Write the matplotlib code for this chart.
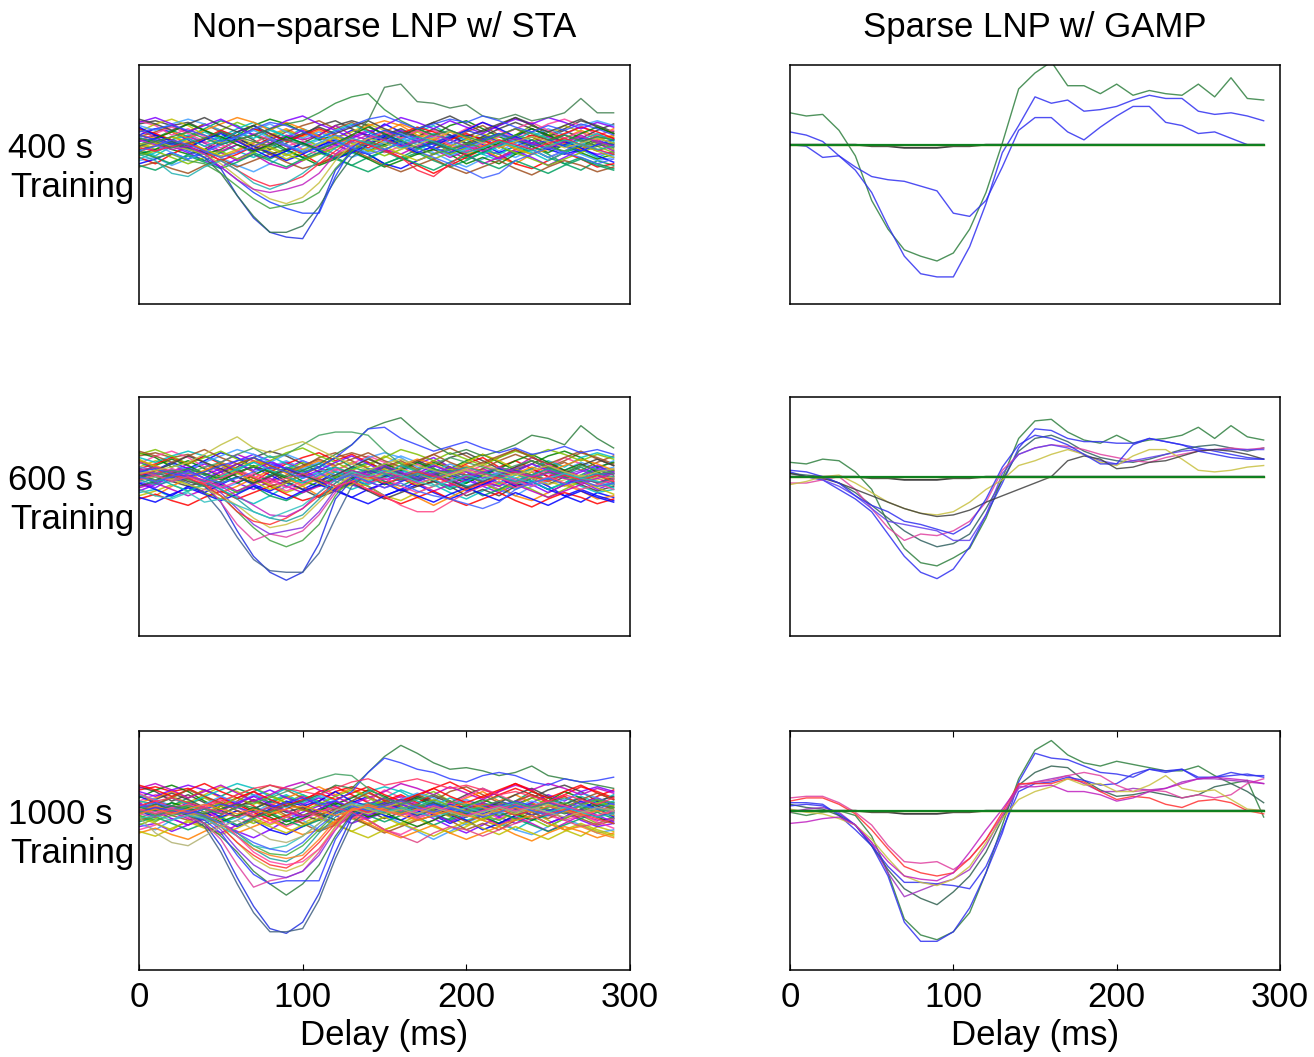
import matplotlib.pyplot as plt

plt.rcParams['font.family'] = ['Liberation Sans', 'DejaVu Sans']

# delay axis (ms), one sample every 10 ms
delay = list(range(0, 300, 10))
xticks = [0, 100, 200, 300]
titles = ["Non\u2212sparse LNP w/ STA", "Sparse LNP w/ GAMP"]
rows = ["400 s", "600 s", "1000 s"]

# values in tenths of a unit, 0 = baseline
# shared noisy band of the STA filters (hand traced, approximate)
band = [
    [6, 10, 8, 3, -4, 1, 8, 12, 5, 0, -5, -1, 4, 9, 6, 13, 8, 3, -3, 1, 6, 4, -1, 5, 10, 6, 1, -4, 0, 3],
    [-3, -7, -1, 4, 8, 3, -4, -8, -3, 5, 10, 6, 0, -5, -9, -4, 3, 8, 12, 6, 0, -6, -10, -5, 1, 8, 4, -3, -8, -4],
    [13, 15, 12, 14, 9, 4, 8, 3, -3, 1, 6, 12, 15, 10, 5, 0, 4, 9, 14, 18, 13, 8, 12, 17, 13, 6, 10, 15, 12, 8],
    [0, 4, 9, 5, 10, 15, 12, 6, 1, -4, -8, -3, 3, -1, -6, -12, -8, -3, 1, -4, -9, -5, 0, 4, -1, -6, -12, -16, -10, -13],
    [-10, -8, -13, -9, -4, -8, -13, -17, -12, -6, -1, 3, -3, -8, -4, 1, 5, 0, -5, -10, -14, -9, -4, -8, -3, 3, -1, -6, -10, -8],
    [4, 1, -3, -6, -3, 3, 6, 12, 16, 13, 8, 3, 6, 1, -4, 0, 5, 10, 6, 12, 15, 10, 5, 1, 5, 0, -5, -1, 4, 1],
    [9, 5, 0, 4, -1, -5, -10, -6, -12, -15, -10, -5, 0, 5, 9, 4, -1, 3, -3, -8, -4, 1, 6, 3, -3, -8, -4, 1, 6, 4],
    [-5, 0, 5, 1, -3, -8, -4, 1, 6, 10, 5, 9, 4, -1, 3, 8, 13, 9, 4, -1, -6, -3, -8, -12, -6, -1, 4, 9, 5, 10],
    [15, 12, 6, 10, 5, 0, -4, 1, 6, 3, -3, -6, -1, 4, 0, -5, -1, 4, 9, 5, 10, 14, 9, 4, 8, 13, 16, 12, 6, 9],
    [1, -3, 3, 8, 13, 9, 14, 10, 5, 9, 4, -1, -6, -3, 3, 6, 1, -4, -9, -5, 0, 5, 1, 6, 12, 8, 3, -3, 1, -3],
    [-8, -12, -6, -1, -5, -10, -6, -1, 4, -1, -6, -12, -8, -3, 1, -3, -8, -13, -18, -13, -8, -3, -6, -12, -15, -10, -5, -9, -14, -12],
    [8, 13, 16, 12, 6, 1, 5, 0, -4, -9, -5, 0, 4, 8, 13, 9, 4, 8, 3, -3, 1, -4, -8, -3, 3, 6, 12, 8, 3, 5],
    [-1, 3, -1, -5, -10, -14, -9, -4, 0, 4, 9, 5, 0, -4, 0, 5, 9, 4, 0, 5, 1, -4, -9, -4, -8, -13, -8, -3, -6, -5],
    [5, 8, 12, 8, 13, 8, 3, -3, 3, 8, 12, 15, 10, 14, 9, 4, -1, -6, -3, 3, 8, 12, 6, 10, 5, 0, 4, 0, -4, 0],
    [-12, -9, -5, -9, -5, 0, 4, -1, -5, -10, -6, -1, 3, -3, -6, -12, -15, -10, -6, -1, 4, 0, -5, -1, 3, -3, -6, -3, 3, -1],
    [10, 6, 3, 6, 1, 5, 10, 14, 10, 5, 1, -4, -8, -4, 1, 6, 3, -3, 1, 6, 3, -3, -6, -1, -5, -10, -5, 0, 5, 3],
    [3, 6, 3, -1, 3, 8, 4, -1, -6, -3, 1, 6, 12, 15, 12, 6, 10, 5, 10, 6, 1, 5, 10, 14, 10, 5, 9, 4, 9, 13],
    [-4, -8, -12, -6, -10, -5, 0, -5, -9, -4, 1, -3, -8, -13, -8, -4, -9, -5, -10, -14, -10, -5, -1, -6, -3, -8, -12, -8, -12, -15],
    [12, 9, 13, 16, 13, 9, 4, 9, 13, 8, 4, 8, 3, -1, -5, -1, 4, 0, 5, 1, -3, 1, -4, 1, 5, 10, 6, 12, 15, 12],
    [-6, -3, 1, -3, -6, -3, 3, 6, 3, -3, -8, -13, -9, -4, -9, -14, -10, -6, -3, -6, -12, -8, -12, -6, -1, -5, 0, -5, -9, -6],
    [0, -4, 0, 5, 1, -4, 0, -4, 1, 6, 3, 6, 12, 6, 3, -3, -6, -1, 3, -3, -6, -12, -8, -3, 1, 5, 1, 6, 1, -4],
    [6, 4, 8, 4, 9, 13, 17, 14, 9, 14, 10, 5, 1, 6, 12, 15, 12, 6, 3, 8, 4, -1, 3, -3, -6, -3, 1, -3, 3, 6],
    [2, 7, 11, 7, 2, -2, 2, 7, 3, -1, 2, -2, -6, -1, 4, 8, 4, 9, 5, 0, -4, 1, 5, 10, 14, 9, 4, 8, 3, -2],
    [-7, -4, -8, -12, -8, -4, -9, -5, -1, -6, -10, -6, -2, 2, -3, -7, -3, 2, -2, -6, -2, 3, -1, -5, -9, -13, -9, -5, -1, -5],
    [10, 7, 3, 0, 4, 9, 5, 10, 7, 2, 6, 10, 6, 2, -2, 3, 7, 11, 8, 3, 7, 3, -2, 2, 6, 3, 7, 11, 8, 4],
    [-2, 1, 5, 2, -3, -7, -3, 2, -2, -7, -3, 1, 5, 1, -4, -1, -6, -10, -6, -1, 3, 7, 3, -2, -6, -2, 3, 0, -4, -8],
    [14, 17, 13, 8, 12, 16, 11, 6, 10, 15, 18, 13, 9, 4, 8, 12, 17, 14, 10, 15, 11, 7, 12, 16, 13, 17, 14, 10, 14, 11],
    [-14, -11, -15, -18, -13, -9, -14, -10, -6, -11, -15, -12, -7, -3, -8, -13, -17, -13, -9, -14, -18, -14, -10, -15, -19, -14, -10, -13, -17, -14],
    [11, 6, 2, -2, 3, 7, 2, -3, -8, -4, 1, -4, -9, -5, 0, 5, 0, -5, -1, 4, 9, 14, 10, 5, 1, -3, 2, -2, -7, -11],
    [-9, -5, 0, 4, -1, 3, 8, 4, 9, 5, 0, 4, 9, 13, 8, 3, -2, 2, 7, 3, -2, -6, -1, 3, 8, 4, -1, 3, 7, 2],
    [16, 13, 9, 13, 17, 12, 8, 12, 7, 3, 7, 11, 7, 11, 15, 10, 6, 10, 14, 9, 5, 9, 13, 17, 12, 8, 12, 16, 11, 7],
    [-13, -16, -11, -7, -11, -15, -11, -6, -10, -14, -9, -5, -9, -13, -17, -12, -8, -12, -16, -11, -7, -11, -15, -10, -14, -18, -13, -9, -13, -16],
    [5, 0, -5, -9, -5, 0, 5, 9, 4, 0, -4, 1, 6, 2, -3, 2, 7, 3, -2, -7, -3, 2, 6, 2, -3, -8, -4, 1, -3, -7],
    [-1, 4, 8, 13, 9, 5, 0, -4, 0, 5, 1, -3, 1, 6, 11, 7, 2, -2, 2, -2, -7, -3, 1, 6, 10, 6, 2, 7, 11, 7],
]

# STA filters that stand out of the band, per training length
sta_400 = [
    ([2, 4, 1, -2, -5, -15, -32, -46, -55, -58, -59, -42, -16, -5, 3, 6, 2, -2, 1, 5, 9, 6, 2, 5, 1, -3, 0, 4, 2, 0], '#2030e0'),
    ([-3, -1, 2, -2, -8, -18, -32, -45, -55, -55, -51, -39, -22, -8, 0, 4, 8, 5, 1, -3, 0, 4, 7, 3, -1, 2, 6, 3, -1, 1], '#307050'),
    ([6, 3, 0, -4, -8, -14, -22, -30, -36, -40, -43, -43, -20, -2, 5, 9, 6, 2, -2, -5, -1, 3, 7, 4, 0, 3, -1, -4, 0, 3], '#2040ff'),
    ([-5, -8, -6, -10, -12, -18, -26, -34, -40, -38, -36, -30, -15, -4, 2, -1, 3, -2, -6, -3, 1, -2, 2, 6, 3, -1, -4, -1, 2, -2], '#40a040'),
    ([0, 2, -1, -3, -6, -12, -20, -28, -34, -37, -33, -24, -10, 0, 4, 1, -3, 0, 4, 8, 5, 1, -2, 2, 5, 2, -2, 1, 4, 1], '#c8c040'),
    ([3, 0, -3, -1, -6, -14, -22, -28, -30, -28, -25, -18, -6, 2, 6, 3, -1, 2, 6, 3, -1, -4, 0, 4, 1, -2, 2, 5, 2, -1], '#c020c0'),
    ([-2, -4, -1, 1, -4, -10, -16, -22, -26, -24, -20, -12, -4, 3, 0, -4, -8, -16, -20, -12, -5, -1, 3, 0, -3, 1, 4, 0, -3, -6], '#ff2040'),
    ([-6, -10, -18, -20, -14, -10, -16, -24, -28, -24, -18, -10, -2, 4, 1, -3, 1, 5, 2, -2, -5, -2, 2, -1, -4, -1, 3, 0, -3, -1], '#20b0b0'),
    ([4, 2, 5, 8, 4, 0, 3, 6, 10, 13, 15, 20, 26, 30, 32, 22, 15, 10, 6, 9, 5, 2, 6, 10, 7, 3, 6, 2, 5, 3], '#309040'),
    ([-1, 2, -2, 1, 4, 8, 5, 2, -1, 3, 0, -3, 1, 5, 15, 36, 38, 27, 26, 23, 25, 18, 16, 19, 15, 17, 20, 29, 20, 20], '#408050'),
    ([8, 10, 12, 9, 6, 2, 5, 10, 14, 12, 8, 4, 8, 12, 16, 18, 14, 10, 13, 16, 14, 18, 15, 11, 8, 12, 9, 13, 10, 6], '#3050ff'),
    ([-4, -1, 3, 0, -4, -8, -5, -1, 3, -1, -5, -2, 2, -2, -6, -3, 1, -4, -8, -12, -16, -21, -18, -10, -6, -2, -5, -8, -12, -9], '#4060ff'),
]

sta_600 = [
    ([2, 0, -3, -1, -6, -16, -34, -50, -60, -65, -60, -42, -14, -2, 4, 1, -3, 0, 4, 1, -2, 2, 5, 2, -1, 3, 0, -3, 1, 2], '#2030e0'),
    ([-1, 2, 0, -4, -10, -22, -38, -52, -59, -60, -60, -48, -26, -6, 2, 6, 2, -2, 1, 4, 0, -3, 1, 4, 1, -2, 2, -1, -4, -1], '#406090'),
    ([0, -3, 1, -2, -6, -12, -22, -32, -40, -44, -40, -30, -12, 0, 5, 2, -2, 1, 5, 2, -1, 3, 0, -4, -1, 3, 0, -3, 1, 4], '#40a040'),
    ([3, 1, -2, 1, -4, -16, -30, -40, -36, -38, -34, -24, -10, 2, -1, 3, 0, -4, -1, 2, 5, 2, -1, -4, 0, 4, 1, -2, 1, -1], '#e040a0'),
    ([5, 2, 4, 1, -3, -10, -20, -30, -36, -34, -32, -22, -8, 0, 4, 7, 3, -1, 2, 6, 3, -1, 2, 5, 8, 4, 1, 4, 1, 3], '#8030e0'),
    ([-3, 0, -2, -5, -8, -12, -18, -26, -32, -30, -26, -16, -6, 1, -2, 2, 5, 2, -2, 1, 4, 1, -2, 2, -1, -5, -2, 1, -2, 0], '#c8c040'),
    ([1, 4, 1, -1, -5, -12, -22, -28, -30, -26, -20, -12, -4, 3, 0, -4, -1, 3, 0, -4, -8, -4, 0, 3, 0, -3, 1, -2, 1, -3], '#ff3030'),
    ([-2, -5, -3, 0, -3, -8, -14, -22, -26, -28, -24, -14, -4, 2, 5, 2, -1, 2, -1, 3, 6, 3, 0, -3, 1, 5, 2, -1, 2, 0], '#20a0a0'),
    ([4, 6, 3, 0, -2, -6, -12, -18, -24, -25, -20, -10, -2, 4, 1, -2, 1, 4, 1, -3, 0, 3, 6, 3, 0, 2, -1, -4, -1, 2], '#c020c0'),
    ([-8, -12, -14, -10, -16, -14, -18, -22, -26, -22, -18, -10, -2, 3, 0, 4, 1, -3, -6, -3, 1, -2, 2, -1, -4, -1, 2, -1, -3, -5], '#30c0c0'),
    ([1, -2, 2, 5, 2, -1, 3, 6, 3, 0, 4, 8, 14, 20, 30, 34, 37, 28, 20, 14, 17, 13, 16, 20, 26, 24, 20, 32, 24, 18], '#308040'),
    ([3, 5, 2, 0, 3, 7, 10, 12, 8, 5, 2, 6, 12, 20, 30, 31, 24, 20, 16, 19, 22, 18, 15, 18, 14, 16, 19, 15, 17, 14], '#3040ff'),
    ([-2, 1, 4, 2, 6, 9, 14, 18, 12, 14, 20, 26, 28, 28, 26, 16, 8, 4, 8, 12, 9, 6, 3, 7, 10, 6, 3, 7, 4, 2], '#40a060'),
    ([2, 4, 6, 9, 14, 20, 25, 18, 15, 19, 22, 17, 12, 8, 4, 8, 11, 7, 4, 1, 5, 8, 4, 1, 4, 7, 3, 0, 3, 5], '#c0c040'),
    ([-2, 1, -3, 0, -4, -1, 3, 0, -4, -1, 2, -2, -6, -3, -8, -12, -18, -22, -22, -16, -10, -6, -3, -7, -4, 0, -4, -8, -5, -2], '#ff4080'),
    ([0, -3, 0, 3, -1, -4, -1, 3, 6, 3, -1, 2, -2, 1, -3, -7, -4, -9, -12, -14, -17, -20, -16, -8, -4, -1, -5, -2, -6, -4], '#4060ff'),
]

sta_1000 = [
    ([3, 1, -2, -1, -8, -22, -42, -60, -74, -77, -70, -52, -26, -4, 2, 5, 1, -3, 0, 4, 1, -2, 2, 5, 1, -2, 2, -1, -4, -1], '#2030e0'),
    ([-1, 2, 0, -3, -10, -26, -46, -64, -76, -76, -74, -56, -30, -8, 0, 4, 7, 3, -1, 2, -2, 1, 4, 1, -3, 0, 3, -1, 2, 0], '#406080'),
    ([2, 4, 1, -3, -8, -16, -26, -38, -46, -53, -46, -34, -16, -2, 4, 1, -2, 2, 5, 2, -2, 1, -3, 0, 4, 1, -2, 1, 4, 2], '#308040'),
    ([0, -2, 1, -2, -6, -14, -28, -40, -46, -44, -44, -44, -18, -3, 3, 0, -3, 1, 4, 1, -3, 0, 3, 6, 3, 0, 3, -1, 2, -1], '#3040ff'),
    ([-2, -4, -1, -4, -8, -18, -34, -48, -44, -42, -38, -26, -10, 2, -1, 3, 0, -4, -1, 3, 0, -3, 1, 4, 1, -2, 1, -2, 2, 0], '#e040a0'),
    ([4, 1, 3, 0, -4, -12, -24, -34, -40, -42, -38, -28, -12, 0, 4, 8, 4, 0, 3, -1, 2, 5, 2, -1, 2, 5, 2, 5, 8, 4], '#8030e0'),
    ([1, -2, 1, -2, -5, -10, -20, -30, -36, -38, -34, -24, -10, 1, -2, 2, 5, 2, -1, 3, 0, -3, 1, -2, 1, 4, 1, -2, 1, -1], '#c8c040'),
    ([-1, 2, -1, 1, -3, -10, -20, -28, -34, -36, -30, -20, -8, 2, -1, 3, 6, 3, 0, -3, 0, 4, 1, -3, 0, -3, 1, -2, -5, -8], '#ff3030'),
    ([3, 0, 3, 1, -2, -8, -16, -24, -30, -32, -26, -14, -4, 2, 5, 2, -1, 3, 6, 2, -1, 2, -1, 3, 0, -3, 0, 3, 1, -1], '#20a0a0'),
    ([-3, -6, -3, -1, -4, -8, -14, -22, -27, -28, -22, -12, -2, 4, 1, -2, 1, 4, 0, -3, 0, 3, 6, 2, -1, 2, 5, 2, -1, 2], '#40b040'),
    ([0, 3, 0, -2, -2, -8, -16, -24, -28, -30, -28, -18, -6, 1, 4, 1, -2, 1, -2, 2, 5, 2, -1, 2, -1, 3, 0, -3, 0, -3], '#ff8020'),
    ([-5, -3, -6, -3, -5, -10, -16, -22, -24, -22, -16, -8, 0, 5, 2, -1, 2, -1, -4, -1, 2, -1, 2, 5, 2, -1, 2, -1, -4, -2], '#30c0c0'),
    ([2, 5, 2, 0, -3, -8, -14, -20, -24, -26, -20, -10, -2, 3, 0, 3, 6, 2, -1, 2, -1, -4, -1, 3, 0, -3, 0, 4, 1, 5], '#4060ff'),
    ([1, -1, 2, 4, 1, -6, -16, -26, -32, -34, -32, -24, -12, 0, 3, 0, -3, 0, 3, 0, -3, 0, 3, 0, 3, 6, 3, 0, -3, 0], '#ff40a0'),
    ([-4, -14, -20, -22, -16, -10, -6, -12, -18, -20, -16, -8, 0, 4, 1, -2, 1, -2, 2, -1, -4, -1, 2, -1, 2, -1, -4, -1, 2, 0], '#b0b070'),
    ([2, 0, 3, 1, -2, 1, 4, 2, -1, 3, 6, 10, 16, 14, 24, 34, 41, 36, 30, 26, 27, 25, 22, 24, 28, 22, 20, 18, 16, 14], '#308040'),
    ([-1, 2, 0, -2, 1, 4, 2, -1, 2, 5, 8, 4, 6, 12, 24, 33, 30, 26, 24, 20, 18, 22, 24, 22, 18, 16, 20, 18, 19, 21], '#3040ff'),
    ([0, -3, 0, 3, 1, -2, 2, 5, 8, 12, 16, 20, 23, 22, 14, 8, 4, 7, 10, 6, 3, 6, 9, 5, 2, 5, 8, 4, 7, 5], '#40a060'),
    ([3, 6, 8, 5, 2, 6, 10, 14, 16, 14, 12, 10, 14, 18, 20, 16, 18, 20, 17, 14, 16, 13, 10, 12, 9, 6, 10, 7, 4, 8], '#ff3060'),
    ([1, -2, 1, -1, 2, -1, -4, -1, 2, 0, -3, -1, 2, -1, -6, -12, -16, -20, -14, -10, -12, -16, -12, -8, -5, -2, -6, -10, -8, -5], '#e04080'),
    ([-2, 1, -2, 1, 4, 1, -2, 1, -2, 1, 3, 0, -3, 0, 3, 0, -3, -6, -3, 0, -3, -6, -9, -6, -3, -8, -12, -10, -14, -17], '#ff8020'),
]

# sparse GAMP filters (most are exactly zero)
zero_line = [0] * 30
near_zero = [0, 0, 0, 0, 0, -1, -1, -2, -2, -2, -1, -1, 0, 0, 0, 0, 0, 0, 0, 0, 0, 0, 0, 0, 0, 0, 0, 0, 0, 0]

gamp_400 = [
    ([20, 18, 19, 9, -7, -35, -53, -66, -70, -73, -68, -53, -30, 1, 35, 45, 52, 37, 37, 32, 38, 31, 34, 32, 31, 38, 30, 42, 29, 28], '#308040'),
    ([8, 6, 2, -7, -16, -30, -51, -70, -81, -83, -83, -64, -37, -5, 12, 30, 26, 28, 21, 22, 24, 28, 31, 29, 29, 21, 19, 20, 18, 15], '#3030f0'),
    ([0, -1, -8, -7, -14, -20, -22, -23, -26, -29, -43, -45, -35, -14, 9, 17, 17, 8, 3, 11, 18, 24, 24, 14, 12, 7, 8, 4, 0, 0], '#3030f0'),
]

gamp_600 = [
    ([9, 8, 11, 10, 3, -8, -29, -45, -54, -56, -51, -45, -26, -1, 24, 35, 36, 28, 23, 21, 26, 21, 23, 24, 26, 31, 24, 32, 25, 23], '#308040'),
    ([3, 0, -2, -8, -14, -22, -36, -50, -60, -64, -58, -44, -24, -4, 18, 30, 29, 24, 22, 22, 21, 21, 24, 22, 20, 18, 16, 14, 12, 11], '#3030f0'),
    ([2, 1, 0, -4, -10, -18, -26, -34, -40, -44, -42, -36, -20, -2, 16, 24, 26, 22, 16, 12, 10, 9, 11, 14, 17, 19, 20, 18, 16, 18], '#306060'),
    ([-4, -4, -2, 0, -8, -20, -32, -40, -36, -37, -34, -28, -16, 4, 14, 18, 20, 19, 17, 14, 12, 10, 9, 12, 14, 16, 17, 18, 17, 18], '#e040a0'),
    ([0, 0, -2, -6, -12, -20, -28, -30, -32, -34, -40, -40, -24, 2, 14, 18, 20, 18, 14, 10, 8, 10, 12, 14, 16, 17, 17, 17, 17, 17], '#6040f0'),
    ([-5, -3, 0, 1, -4, -10, -16, -20, -23, -24, -22, -16, -8, -2, 7, 10, 14, 17, 14, 9, 7, 13, 17, 17, 11, 4, 3, 4, 6, 7], '#c8c040'),
    ([2, 0, -1, -4, -8, -12, -16, -20, -23, -25, -24, -21, -16, -12, -8, -4, 0, 10, 13, 11, 5, 6, 9, 10, 13, 16, 17, 16, 14, 11], '#404040'),
    ([4, 3, 0, -4, -12, -18, -22, -28, -30, -33, -36, -30, -14, 6, 20, 26, 24, 20, 14, 8, 8, 20, 24, 22, 20, 16, 14, 12, 11, 11], '#3030f0'),
]

gamp_1000 = [
    ([-1, -3, -1, 0, -3, -16, -39, -68, -78, -81, -76, -64, -39, -9, 20, 38, 44, 35, 30, 28, 31, 29, 27, 25, 25, 28, 22, 17, 19, -4], '#308040'),
    ([5, 5, 4, -3, -12, -22, -41, -70, -82, -82, -76, -61, -39, -14, 18, 36, 33, 32, 28, 24, 23, 21, 26, 24, 26, 20, 21, 22, 23, 21], '#3030f0'),
    ([4, 2, 1, -3, -9, -22, -37, -49, -55, -59, -51, -41, -26, -5, 16, 24, 28, 27, 19, 13, 9, 10, 12, 10, 8, 10, 15, 17, 12, 5], '#306050'),
    ([-1, 1, 2, -1, -9, -20, -39, -54, -50, -46, -43, -37, -22, -3, 14, 18, 20, 22, 17, 12, 12, 14, 13, 14, 18, 20, 20, 19, 18, 17], '#a030c0'),
    ([3, 4, 3, -2, -9, -22, -35, -45, -45, -46, -47, -49, -35, -12, 12, 17, 18, 21, 19, 16, 17, 23, 26, 25, 26, 21, 21, 24, 22, 22], '#3030f0'),
    ([8, 9, 9, 5, -1, -9, -22, -32, -33, -32, -37, -30, -18, -3, 16, 18, 19, 22, 24, 22, 16, 12, 13, 12, 8, 10, 8, 10, 17, 20], '#e040a0'),
    ([6, 8, 8, 4, -2, -12, -24, -35, -39, -41, -39, -30, -18, -1, 17, 17, 17, 20, 18, 12, 7, 9, 8, 4, 2, 6, 7, 5, 0, -2], '#ff3030'),
    ([1, -1, -2, -5, -9, -18, -30, -41, -45, -47, -43, -35, -20, -5, 7, 12, 15, 20, 16, 17, 12, 12, 16, 22, 14, 12, 13, 7, 1, 0], '#c8c040'),
    ([-8, -7, -5, -4, -9, -20, -32, -41, -43, -44, -39, -26, -12, 1, 15, 15, 16, 12, 12, 10, 6, 8, 12, 14, 17, 20, 21, 20, 19, 17], '#c020c0'),
]

palette = ['#0000ff', '#008000', '#ff0000', '#00bfbf', '#bf00bf', '#bfbf00', '#404040',
           '#ff8000', '#8000ff', '#00a060', '#ff40a0', '#a05020', '#40a0ff', '#80c000']

left_x = [139 / 1314, 790 / 1314]
col_w = [491 / 1314, 490 / 1314]
row_top = [65, 397, 731]
row_h = 239
fs = 25

fig = plt.figure(figsize=(13.14, 10.57), dpi=100)

sta_sets = [sta_400, sta_600, sta_1000]
gamp_sets = [gamp_400, gamp_600, gamp_1000]

for r in range(3):
    bottom = 1 - (row_top[r] + row_h) / 1057
    for c in range(2):
        ax = fig.add_axes([left_x[c], bottom, col_w[c], row_h / 1057])
        if c == 0:
            for i, vals in enumerate(band):
                col = palette[(i * 3 + r * 5) % len(palette)]
                ax.plot(delay, vals, color=col, lw=1.1, alpha=0.85)
            for vals, col in sta_sets[r]:
                ax.plot(delay, vals, color=col, lw=1.0, alpha=0.85)
        else:
            for vals, col in gamp_sets[r]:
                ax.plot(delay, vals, color=col, lw=1.0, alpha=0.85)
            ax.plot(delay, near_zero, color='#404040', lw=1.3)
            ax.plot(delay, zero_line, color='#c8c040', lw=1.0)
            ax.plot(delay, zero_line, color='#108020', lw=1.6)
        ax.set_xlim(0, 300)
        ax.set_ylim(-100, 50)
        ax.set_yticks([])
        for s in ax.spines.values():
            s.set_linewidth(1.1)
        if r == 2:
            ax.set_xticks(xticks)
            ax.tick_params(axis='x', direction='in', top=True, length=4,
                           labelsize=fs, pad=8)
            fig.text(left_x[c] + col_w[c] / 2, 1 - 1045 / 1057, "Delay (ms)",
                     ha='center', va='baseline', fontsize=fs)
        else:
            ax.set_xticks([])

    fig.text(8 / 1314, 1 - (row_top[r] + 93) / 1057, rows[r], ha='left',
             va='baseline', fontsize=fs)
    fig.text(10 / 1314, 1 - (row_top[r] + 132) / 1057, "Training", ha='left',
             va='baseline', fontsize=fs)

for c in range(2):
    fig.text(left_x[c] + col_w[c] / 2, 1 - 37 / 1057, titles[c], ha='center',
             va='baseline', fontsize=fs)

fig.savefig("out.png", dpi=100)
